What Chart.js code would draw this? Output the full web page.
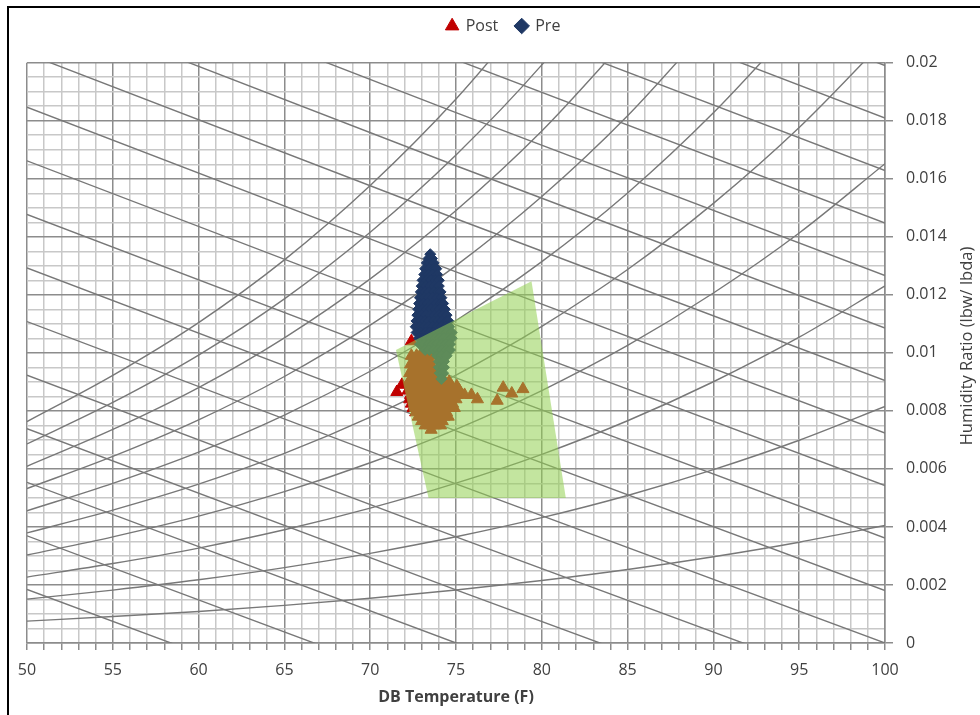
<!DOCTYPE html>
<html><head><meta charset="utf-8">
<script src="https://cdn.jsdelivr.net/npm/chart.js@4.4.1/dist/chart.umd.min.js"></script>
<style>
html,body{margin:0;padding:0;background:#fff;overflow:hidden}
#wrap{position:relative;width:980px;height:715px;overflow:hidden}
#frame{position:absolute;left:7px;top:6px;width:1100px;height:1100px;border-left:2px solid #000;border-top:2px solid #000;pointer-events:none}
canvas{position:absolute;left:0;top:0}
</style></head><body>
<div id="wrap"><canvas id="c" width="980" height="715"></canvas><div id="frame"></div></div>
<script>
// ---- tick labels ----
const xMajorTicks = [50,55,60,65,70,75,80,85,90,95,100];
const yMajorTicks = ['0','0.002','0.004','0.006','0.008','0.01','0.012','0.014','0.016','0.018','0.02'];
const xTitle = 'DB Temperature (F)';
const yTitle = 'Humidity Ratio (lbw/ lbda)';

// ---- relative humidity curves (humidity ratio at 50,55,...,100 F) ----
const rhTemps = [50,55,60,65,70,75,80,85,90,95,100];
const rh10  = [0.000755,0.000911,0.001087,0.001296,0.001542,0.001825,0.002153,0.002532,0.002973,0.003474,0.004049];
const rh20  = [0.001512,0.001824,0.002178,0.002597,0.003091,0.003661,0.004320,0.005085,0.005974,0.006987,0.008151];
const rh30  = [0.002270,0.002739,0.003272,0.003903,0.004648,0.005508,0.006503,0.007660,0.009004,0.010539,0.012308];
const rh40  = [0.003030,0.003658,0.004371,0.005215,0.006213,0.007366,0.008700,0.010254,0.012064,0.014132,0.016519];
const rh50  = [0.003793,0.004579,0.005473,0.006533,0.007785,0.009235,0.010914,0.012872,0.015153,0.017766,0.020787];
const rh60  = [0.004557,0.005503,0.006580,0.007856,0.009366,0.011114,0.013143,0.015510,0.018273,0.021441];
const rh70  = [0.005323,0.006430,0.007690,0.009185,0.010954,0.013006,0.015387,0.018171,0.021423];
const rh80  = [0.006090,0.007359,0.008804,0.010519,0.012550,0.014908,0.017648,0.020853];
const rh90  = [0.006860,0.008291,0.009922,0.011859,0.014155,0.016822,0.019924,0.023559];
const rh100 = [0.007632,0.009226,0.011044,0.013205,0.015768,0.018748,0.022217];
const rhCurves = [rh10,rh20,rh30,rh40,rh50,rh60,rh70,rh80,rh90,rh100];

// ---- enthalpy lines (humidity ratio at 50, 75, 100 F) ----
const enthalpyTemps = [50,75,100];
const enthalpyAt50  = [0.001846,0.003693,0.005539,0.007386,0.009232,0.011078,0.012925,0.014771,0.016617,0.018464,0.020310,0.022157,0.024003,0.025849,0.027696,0.029542,0.031388];
const enthalpyAt75  = [-0.003655,-0.001828,0,0.001828,0.003655,0.005483,0.007311,0.009138,0.010966,0.012794,0.014621,0.016449,0.018277,0.020104,0.021932,0.023760,0.025587];
const enthalpyAt100 = [-0.009047,-0.007237,-0.005428,-0.003619,-0.001809,0,0.001809,0.003619,0.005428,0.007237,0.009047,0.010856,0.012665,0.014474,0.016284,0.018093,0.019902];

// ---- comfort zone polygon ----
const zoneTemp = [71.5, 79.4, 81.4, 73.4, 71.5];
const zoneHum  = [0.0101, 0.01247, 0.0050, 0.0050, 0.0101];

// ---- Pre series ----
const preTemp = [
 73.5,
 73.4,73.6,
 73.3,73.5,73.7,
 73.2,73.45,73.7,73.85,
 73.15,73.4,73.65,73.9,
 73.05,73.3,73.55,73.8,74.0,
 73.0,73.25,73.5,73.75,74.0,
 72.95,73.2,73.45,73.7,73.95,74.1,
 72.9,73.15,73.4,73.65,73.9,74.15,
 72.85,73.1,73.35,73.6,73.85,74.1,74.25,
 72.8,73.05,73.3,73.55,73.8,74.05,74.35,
 72.75,73.0,73.25,73.5,73.75,74.0,74.25,74.45,
 72.7,72.95,73.2,73.45,73.7,73.95,74.2,74.45,74.55,
 72.65,72.9,73.15,73.4,73.65,73.9,74.15,74.4,74.6,
 72.7,72.95,73.2,73.45,73.7,73.95,74.2,74.45,74.75,
 72.85,73.05,73.3,73.55,73.8,74.05,74.3,74.55,74.75,
 72.9,73.15,73.4,73.65,73.9,74.15,74.4,74.65,
 73.2,73.45,73.7,73.95,74.2,74.45,74.65,
 73.9,74.15,74.45,
 74.0,74.3,
 74.0,74.3,
 74.05,74.25,
 74.15
];
const preHum = [
 0.0134,
 0.01325,0.01325,
 0.0131,0.0131,0.0131,
 0.0129,0.0129,0.0129,0.0129,
 0.0127,0.0127,0.0127,0.0127,
 0.0125,0.0125,0.0125,0.0125,0.0125,
 0.0123,0.0123,0.0123,0.0123,0.0123,
 0.0121,0.0121,0.0121,0.0121,0.0121,0.0121,
 0.0119,0.0119,0.0119,0.0119,0.0119,0.0119,
 0.0117,0.0117,0.0117,0.0117,0.0117,0.0117,0.0117,
 0.0115,0.0115,0.0115,0.0115,0.0115,0.0115,0.0115,
 0.0113,0.0113,0.0113,0.0113,0.0113,0.0113,0.0113,0.0113,
 0.0111,0.0111,0.0111,0.0111,0.0111,0.0111,0.0111,0.0111,0.0111,
 0.0109,0.0109,0.0109,0.0109,0.0109,0.0109,0.0109,0.0109,0.0109,
 0.0107,0.0107,0.0107,0.0107,0.0107,0.0107,0.0107,0.0107,0.0107,
 0.0105,0.0105,0.0105,0.0105,0.0105,0.0105,0.0105,0.0105,0.0105,
 0.0103,0.0103,0.0103,0.0103,0.0103,0.0103,0.0103,0.0103,
 0.0101,0.0101,0.0101,0.0101,0.0101,0.0101,0.0101,
 0.0099,0.0099,0.0099,
 0.0097,0.0097,
 0.0095,0.0095,
 0.0093,0.0093,
 0.0091
];

// ---- Post series ----
const postTemp = [
 72.4, 71.55, 71.85,
 73.2,73.5,
 73.05,73.35,
 72.4,72.7,73.0,73.3,73.6,
 72.55,72.85,73.15,73.45,
 72.35,72.65,72.95,73.25,73.55,
 72.45,72.75,73.05,73.35,73.65,
 72.3,72.6,72.9,73.2,73.5,73.8,
 72.45,72.75,73.05,73.35,73.65,73.95,
 72.25,72.55,72.85,73.15,73.45,73.75,74.05,74.35,74.6,
 72.35,72.65,72.95,73.25,73.55,73.85,74.15,74.45,74.75,75.05,
 72.2,72.5,72.8,73.1,73.4,73.7,74.0,74.3,74.6,74.9,75.2,
 72.35,72.65,72.95,73.25,73.55,73.85,74.15,74.45,74.75,75.05,75.5,75.9,
 72.3,72.6,72.9,73.2,73.5,73.8,74.1,74.4,74.7,75.0,76.25,
 72.4,72.7,73.0,73.3,73.6,73.9,74.2,74.5,74.8,
 72.5,72.8,73.1,73.4,73.7,74.0,74.3,74.6,74.9,
 72.65,72.95,73.25,73.55,73.85,74.15,74.45,
 72.8,73.1,73.4,73.7,74.0,74.3,74.55,
 73.0,73.3,73.6,73.9,74.2,
 73.2,73.5,73.8,74.1,
 73.55,
 77.75,78.25,78.9,77.4
];
const postHum = [
 0.0104, 0.00865, 0.0089,
 0.0102,0.0102,
 0.01005,0.01005,
 0.0099,0.0099,0.0099,0.0099,0.0099,
 0.00975,0.00975,0.00975,0.00975,
 0.0096,0.0096,0.0096,0.0096,0.0096,
 0.00945,0.00945,0.00945,0.00945,0.00945,
 0.0093,0.0093,0.0093,0.0093,0.0093,0.0093,
 0.00915,0.00915,0.00915,0.00915,0.00915,0.00915,
 0.0090,0.0090,0.0090,0.0090,0.0090,0.0090,0.0090,0.0090,0.0090,
 0.00885,0.00885,0.00885,0.00885,0.00885,0.00885,0.00885,0.00885,0.00885,0.00885,
 0.0087,0.0087,0.0087,0.0087,0.0087,0.0087,0.0087,0.0087,0.0087,0.0087,0.0087,
 0.00855,0.00855,0.00855,0.00855,0.00855,0.00855,0.00855,0.00855,0.00855,0.00855,0.00855,0.00855,
 0.0084,0.0084,0.0084,0.0084,0.0084,0.0084,0.0084,0.0084,0.0084,0.0084,0.0084,
 0.00825,0.00825,0.00825,0.00825,0.00825,0.00825,0.00825,0.00825,0.00825,
 0.0081,0.0081,0.0081,0.0081,0.0081,0.0081,0.0081,0.0081,0.0081,
 0.00795,0.00795,0.00795,0.00795,0.00795,0.00795,0.00795,
 0.0078,0.0078,0.0078,0.0078,0.0078,0.0078,0.0078,
 0.00765,0.00765,0.00765,0.00765,0.00765,
 0.0075,0.0075,0.0075,0.0075,
 0.00735,
 0.0088,0.0086,0.00875,0.00835
];

// ---- build chart ----
const pts = (xs, ys) => ys.map((y, i) => ({x: xs[i], y}));
const FONT = '"Open Sans", sans-serif';
const TXT = '#404040';
const MAJOR = '#8c8c8c', MINOR = '#c8c8c8', CURVE = '#787878';

const datasets = [
  { label: 'zone', data: pts(zoneTemp, zoneHum), showLine: true, fill: 'shape',
    backgroundColor: 'rgba(146,208,80,0.55)', borderWidth: 0, borderColor: 'rgba(0,0,0,0)',
    pointRadius: 0, tension: 0, order: 0 },
  { label: 'Pre', data: pts(preTemp, preHum), pointStyle: 'rectRot', pointRadius: 5.5,
    backgroundColor: '#1F3864', borderColor: '#1F3864', borderWidth: 1, order: 1 },
  { label: 'Post', data: pts(postTemp, postHum), pointStyle: 'triangle', pointRadius: 7,
    backgroundColor: '#C00000', borderColor: '#C00000', borderWidth: 1, order: 2 }
];
rhCurves.forEach((c, i) => datasets.push({
  label: 'rh' + (i + 1) * 10, data: pts(rhTemps, c), showLine: true, pointRadius: 0,
  borderColor: CURVE, borderWidth: 1.4, cubicInterpolationMode: 'monotone', fill: false, order: 10
}));
enthalpyAt50.forEach((w, i) => datasets.push({
  label: 'h' + i, data: pts(enthalpyTemps, [w, enthalpyAt75[i], enthalpyAt100[i]]), showLine: true, pointRadius: 0,
  borderColor: CURVE, borderWidth: 1.4, tension: 0, fill: false, order: 11
}));

const isMajorY = v => Math.round(v / 0.0005) % 4 === 0;
const yLabel = v => String(parseFloat(v.toFixed(4)));

const legendFit = {
  id: 'legendFit',
  beforeLayout(chart) {
    const lg = chart.legend;
    if (lg && !lg._patched) {
      const orig = lg.fit;
      lg.fit = function () { orig.call(this); this.height = 62.7; };
      lg._patched = true;
    }
  }
};
const yTitlePlugin = {
  id: 'yTitle',
  afterDraw(chart) {
    const ctx = chart.ctx;
    ctx.save();
    ctx.translate(967, 346);
    ctx.rotate(-Math.PI / 2);
    ctx.font = '16.5px ' + FONT;
    ctx.fillStyle = TXT;
    ctx.textAlign = 'center';
    ctx.textBaseline = 'middle';
    ctx.fillText(yTitle, 0, 0);
    ctx.restore();
  }
};

new Chart(document.getElementById('c'), {
  type: 'scatter',
  data: { datasets },
  plugins: [legendFit, yTitlePlugin],
  options: {
    responsive: false, animation: false, devicePixelRatio: 1, events: [],
    layout: { padding: { left: 27, right: 0, top: 0, bottom: 0 } },
    plugins: {
      tooltip: { enabled: false },
      legend: {
        position: 'top',
        labels: {
          usePointStyle: true, boxWidth: 11, boxHeight: 11, padding: 18,
          color: TXT, font: { family: FONT, size: 16 },
          filter: item => item.text === 'Post' || item.text === 'Pre',
          sort: (a, b) => (a.text === 'Post' ? 0 : 1) - (b.text === 'Post' ? 0 : 1)
        }
      }
    },
    scales: {
      x: {
        type: 'linear', min: 50, max: 100, position: 'bottom',
        afterFit(s) { s.height = 72; },
        ticks: { stepSize: 1, autoSkip: false, maxRotation: 0, padding: 11, color: TXT,
          font: { family: FONT, size: 16 },
          callback: v => xMajorTicks.includes(v) ? String(v) : '' },
        grid: { drawTicks: true, tickLength: 7, lineWidth: 1.5,
          color: c => (c.tick && xMajorTicks.includes(c.tick.value)) ? MAJOR : MINOR,
          tickColor: MAJOR },
        border: { color: MAJOR, width: 1.5 },
        title: { display: true, text: xTitle, color: TXT, font: { family: FONT, size: 16, weight: 'bold' },
          padding: { top: 0, bottom: 8 } }
      },
      y: {
        type: 'linear', min: 0, max: 0.02, position: 'right',
        afterFit(s) { s.width = 95; },
        ticks: { stepSize: 0.0005, autoSkip: false, padding: 13, color: TXT,
          font: { family: FONT, size: 16 },
          callback: v => isMajorY(v) ? yLabel(v) : '' },
        grid: { drawTicks: true, tickLength: 8, lineWidth: 1.5,
          color: c => (c.tick && isMajorY(c.tick.value)) ? MAJOR : MINOR,
          tickColor: c => (c.tick && isMajorY(c.tick.value)) ? MAJOR : 'rgba(0,0,0,0)' },
        border: { color: MAJOR, width: 1.5 }
      }
    }
  }
});
</script>
</body></html>
